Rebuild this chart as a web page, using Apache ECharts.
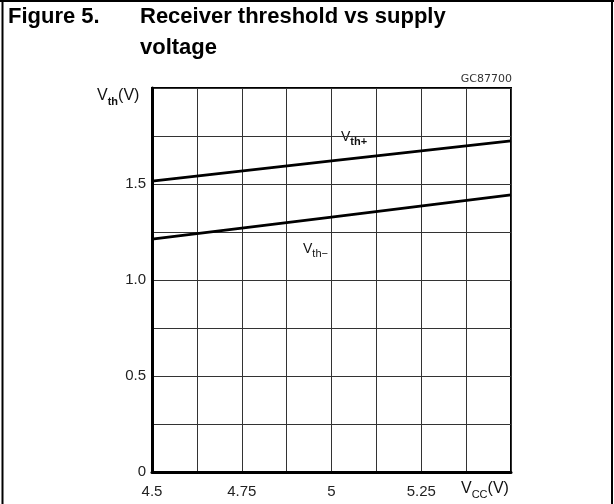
<!DOCTYPE html>
<html>
<head>
<meta charset="utf-8">
<script src="https://cdn.jsdelivr.net/npm/echarts@6/dist/echarts.min.js"></script>
<style>html,body{margin:0;padding:0;background:#fff;}#c{width:614px;height:504px;}</style>
</head>
<body>
<div id="c"></div>
<script>
const vcc = [4.5, 5.0, 5.5];
const vthPlus = [1.515, 1.62, 1.725];
const vthMinus = [1.213, 1.328, 1.443];
const xTickLabels = ['4.5', '4.75', '5', '5.25'];
const yTickLabels = ['0', '0.5', '1.0', '1.5'];

const chart = echarts.init(document.getElementById('c'), null, {renderer: 'canvas'});
const font = '"Liberation Sans", Arial, sans-serif';
const lineStyle = {color: '#000', width: 2.8};

chart.setOption({
  animation: false,
  backgroundColor: '#fff',
  grid: {left: 152, top: 88, right: 103, bottom: 32, show: true, borderColor: '#000', borderWidth: 2, backgroundColor: 'transparent'},
  xAxis: {
    type: 'value', min: 4.5, max: 5.5, interval: 0.125,
    axisLine: {show: true, lineStyle: {color: '#000', width: 3}},
    axisTick: {show: false},
    splitLine: {show: true, lineStyle: {color: '#333', width: 1}},
    axisLabel: {
      color: '#222', fontFamily: font, fontSize: 15, margin: 12,
      showMaxLabel: false,
      formatter: function (v) {
        const i = Math.round((v - 4.5) / 0.25 * 1000) / 1000;
        return Number.isInteger(i) && i < xTickLabels.length ? xTickLabels[i] : '';
      }
    }
  },
  yAxis: {
    type: 'value', min: 0, max: 2, interval: 0.25,
    axisLine: {show: true, lineStyle: {color: '#000', width: 3}},
    axisTick: {show: false},
    splitLine: {show: true, lineStyle: {color: '#333', width: 1}},
    axisLabel: {
      color: '#222', fontFamily: font, fontSize: 15, margin: 6,
      formatter: function (v) {
        const i = Math.round(v / 0.5 * 1000) / 1000;
        return Number.isInteger(i) && i < yTickLabels.length ? yTickLabels[i] : '';
      }
    }
  },
  series: [
    {type: 'line', data: vcc.map((x, i) => [x, vthPlus[i]]), symbol: 'none', lineStyle: lineStyle, z: 5},
    {type: 'line', data: vcc.map((x, i) => [x, vthMinus[i]]), symbol: 'none', lineStyle: lineStyle, z: 5}
  ],
  graphic: [
    {type: 'line', shape: {x1: 2.5, y1: 0, x2: 2.5, y2: 504}, style: {stroke: '#000', lineWidth: 2}},
    {type: 'line', shape: {x1: 0, y1: 1, x2: 614, y2: 1}, style: {stroke: '#000', lineWidth: 2}},
    {type: 'line', shape: {x1: 612, y1: 0, x2: 612, y2: 504}, style: {stroke: '#000', lineWidth: 2}},
    {type: 'text', left: 8, top: 6, style: {text: 'Figure 5.', font: 'bold 22px ' + font, fill: '#000'}},
    {type: 'text', left: 140, top: 6, style: {text: 'Receiver threshold vs supply', font: 'bold 22px ' + font, fill: '#000'}},
    {type: 'text', left: 140, top: 37, style: {text: 'voltage', font: 'bold 22px ' + font, fill: '#000'}},
    {type: 'text', right: 102, top: 74, style: {text: 'GC87700', font: '11px "DejaVu Sans", sans-serif', fill: '#333'}},
    {type: 'text', left: 97, top: 88, style: {
      text: '{v|V}{s|th}{v|(V)}',
      rich: {v: {font: '16px ' + font, fill: '#111', verticalAlign: 'bottom'}, s: {font: 'bold 11px ' + font, fill: '#111', verticalAlign: 'bottom', padding: [0,0,-3,0]}}
    }},
    {type: 'text', left: 461, top: 481, style: {
      text: '{v|V}{s|CC}{v|(V)}',
      rich: {v: {font: '16px ' + font, fill: '#111', verticalAlign: 'bottom'}, s: {font: '11px ' + font, fill: '#111', verticalAlign: 'bottom', padding: [0,0,-3,0]}}
    }},
    {type: 'text', left: 341, top: 130, style: {
      text: '{v|V}{s|th+}',
      rich: {v: {font: '14px ' + font, fill: '#111', verticalAlign: 'bottom'}, s: {font: 'bold 11px ' + font, fill: '#111', verticalAlign: 'bottom', padding: [0,0,-3,0]}}
    }},
    {type: 'text', left: 303, top: 242, style: {
      text: '{v|V}{s|th\u2212}',
      rich: {v: {font: '14px ' + font, fill: '#111', verticalAlign: 'bottom'}, s: {font: '11px ' + font, fill: '#111', verticalAlign: 'bottom', padding: [0,0,-3,0]}}
    }}
  ]
});
</script>
</body>
</html>
